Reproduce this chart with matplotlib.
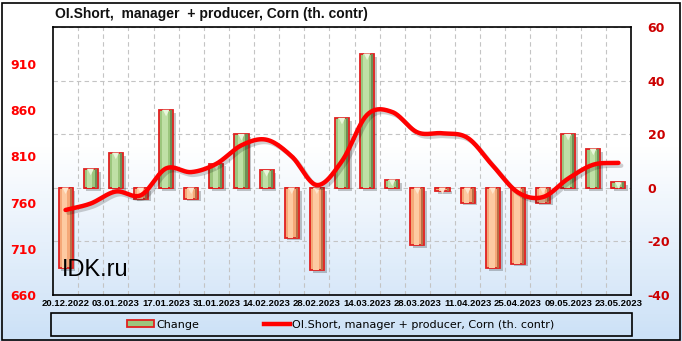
import numpy as np
import matplotlib
matplotlib.use("Agg")
import matplotlib.pyplot as plt
import matplotlib.patheffects as pe
import matplotlib.transforms as mtransforms
from matplotlib.patches import Rectangle, Patch
from matplotlib.lines import Line2D
from matplotlib.colors import LinearSegmentedColormap

plt.rcParams['axes.unicode_minus'] = False

# weekly report dates (one bar per week)
dates = ['20.12.2022', '27.12.2022', '03.01.2023', '10.01.2023', '17.01.2023',
         '24.01.2023', '31.01.2023', '07.02.2023', '14.02.2023', '21.02.2023',
         '28.02.2023', '07.03.2023', '14.03.2023', '21.03.2023', '28.03.2023',
         '04.04.2023', '11.04.2023', '18.04.2023', '25.04.2023', '02.05.2023',
         '09.05.2023', '16.05.2023', '23.05.2023']
# weekly change, th. contracts (right axis)
change = [-30, 7, 13, -4, 29, -4, 9, 20, 6.5, -18.6, -30.8, 26, 50, 3,
          -21.5, -1.1, -5.5, -30, -28.3, -5.5, 20, 14.5, 2]
# open interest short, th. contracts (left axis)
oi_short = [752, 759, 772, 768, 797, 793, 802, 822, 828, 810, 779, 805, 855,
            858, 836, 835, 830, 800, 771, 766, 786, 801, 803]

title = 'OI.Short,  manager  + producer, Corn (th. contr)'
line_label = 'OI.Short, manager + producer, Corn (th. contr)'


def smooth(xs, ys, n=24):
    # catmull-rom curve through the points, for drawing only
    xs = np.asarray(xs, float)
    ys = np.asarray(ys, float)
    px = np.concatenate([[2 * xs[0] - xs[1]], xs, [2 * xs[-1] - xs[-2]]])
    py = np.concatenate([[2 * ys[0] - ys[1]], ys, [2 * ys[-1] - ys[-2]]])
    out_x, out_y = [], []
    t = np.linspace(0, 1, n, endpoint=False)
    for i in range(1, len(px) - 2):
        for arr, out in ((px, out_x), (py, out_y)):
            p0, p1, p2, p3 = arr[i - 1], arr[i], arr[i + 1], arr[i + 2]
            out.extend(0.5 * (2 * p1 + (-p0 + p2) * t
                              + (2 * p0 - 5 * p1 + 4 * p2 - p3) * t ** 2
                              + (-p0 + 3 * p1 - 3 * p2 + p3) * t ** 3))
    out_x.append(xs[-1])
    out_y.append(ys[-1])
    return np.array(out_x), np.array(out_y)


W, H = 682, 341
fig = plt.figure(figsize=(W / 100, H / 100), dpi=100)

# background gradient white -> light blue
bg = fig.add_axes([0, 0, 1, 1], zorder=-10)
grad = np.concatenate([np.zeros(42), np.linspace(0, 1, 58)])[:, None]
cmap = LinearSegmentedColormap.from_list('bg', ['#ffffff', '#cce1f7'])
bg.imshow(grad, aspect='auto', cmap=cmap, extent=[0, 1, 0, 1])
bg.set_xlim(0, 1)
bg.set_ylim(0, 1)
bg.axis('off')
bg.add_patch(Rectangle((1.5 / W, 1.5 / H), 678 / W, 337 / H, transform=fig.transFigure,
                       fill=False, edgecolor='black', linewidth=1.2))

left, right, top, bottom = 53, 631, 27, 295
ax = fig.add_axes([left / W, 1 - bottom / H, (right - left) / W, (bottom - top) / H])
ax.patch.set_alpha(0)
axl = ax.twinx()

x = np.arange(len(dates))
pos = [v if v > 0 else 0 for v in change]
neg = [v if v < 0 else 0 for v in change]

green, green_hi, green_dk = '#9cc67e', '#bfe0a6', '#6e8f56'
orange, orange_hi, orange_dk = '#f5a878', '#fdcaa2', '#b87048'
edge = '#e02020'
shadow = [pe.withSimplePatchShadow(offset=(2, -2), shadow_rgbFace='black', alpha=0.22)]

ax.bar(x, pos, width=0.56, color=green, edgecolor=edge, linewidth=1.3, zorder=3,
       path_effects=shadow)
ax.bar(x, neg, width=0.56, color=orange, edgecolor=edge, linewidth=1.3, zorder=3,
       path_effects=shadow)
ax.bar(x - 0.04, pos, width=0.22, color=green_hi, linewidth=0, zorder=4)
ax.bar(x + 0.2, pos, width=0.08, color=green_dk, linewidth=0, zorder=4)
ax.bar(x - 0.04, neg, width=0.22, color=orange_hi, linewidth=0, zorder=4)
ax.bar(x + 0.2, neg, width=0.08, color=orange_dk, linewidth=0, zorder=4)

# small bevel triangle at the top end of every bar
down = mtransforms.offset_copy(ax.transData, fig=fig, x=0, y=-3, units='dots')
tops = [max(v, 0) for v in change]
tri_col = ['#eaf6dc' if v > 0 else '#fee6cf' for v in change]
ax.scatter(x, tops, marker='v', s=22, c=tri_col, linewidths=0, zorder=5, transform=down)

ax.set_xlim(-0.5, len(dates) - 0.5)
ax.set_ylim(-40, 60)
ax.set_yticks(np.arange(-40, 61, 20))
ax.yaxis.tick_right()
ax.tick_params(axis='y', length=0, pad=12, labelsize=9, labelcolor='#cc0000')
for lab in ax.get_yticklabels():
    lab.set_fontweight('bold')
ax.set_xticks(x[::2])
ax.set_xticklabels(dates[::2], fontsize=6.8, fontweight='bold', family='Liberation Sans')
ax.tick_params(axis='x', length=0, pad=3)
ax.set_xticks(x[:-1] + 0.5, minor=True)
ax.tick_params(axis='x', which='minor', length=0)
ax.grid(True, axis='x', which='minor', color='#c4c4c4', linestyle=(0, (4, 3)), linewidth=0.8)
ax.grid(True, axis='y', which='major', color='#c4c4c4', linestyle=(0, (4, 3)), linewidth=0.8)
ax.set_axisbelow(True)
for s in ax.spines.values():
    s.set_color('black')
    s.set_linewidth(1.2)

# OI line on the left axis
axl.set_ylim(660, 950)
axl.set_yticks(np.arange(660, 911, 50))
axl.yaxis.tick_left()
axl.tick_params(axis='y', length=0, pad=12, labelsize=9, labelcolor='#ff0000')
for lab in axl.get_yticklabels():
    lab.set_fontweight('bold')
sx, sy = smooth(x, oi_short)
axl.plot(sx, sy, color='#ff0000', linewidth=3.2, solid_capstyle='round', zorder=6,
         path_effects=[pe.SimpleLineShadow(offset=(2, -2), alpha=0.18), pe.Normal()])
for s in axl.spines.values():
    s.set_visible(False)

fig.text(55 / W, 1 - 14 / H, title, ha='left', va='center', fontsize=10,
         fontweight='bold', family='Liberation Sans', color='#111111')
ax.text(0.016, 0.07, 'IDK.ru', transform=ax.transAxes, fontsize=17,
        family='Liberation Sans', color='black', zorder=7)

# legend box
bg.add_patch(Rectangle((50.5 / W, 1 - 336 / H), 581 / W, 23 / H, transform=fig.transFigure,
                       fill=False, edgecolor='black', linewidth=1.2))
handles = [Patch(facecolor=green, edgecolor=edge, linewidth=1.3),
           Line2D([], [], color='#ff0000', linewidth=3.2)]
fig.legend(handles, ['Change', line_label], loc='center', ncol=2, frameon=False,
           bbox_to_anchor=(341 / W, 1 - 324.5 / H), fontsize=8, handlelength=2.4,
           handletextpad=0.2, columnspacing=5.8, handleheight=0.6)

fig.savefig('out.png', dpi=100)
